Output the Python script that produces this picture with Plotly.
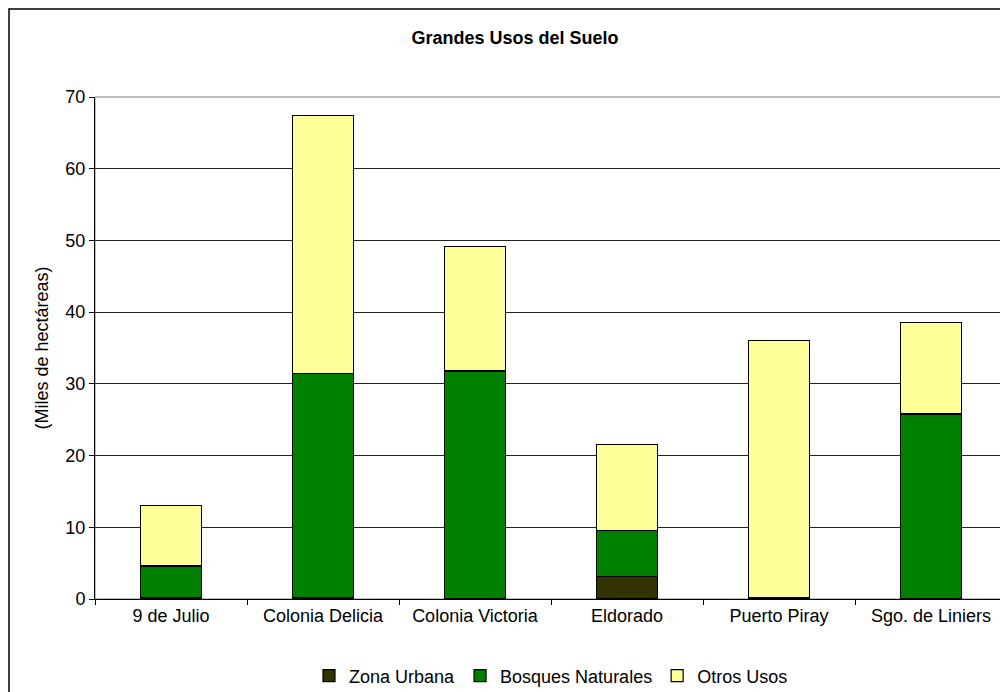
import plotly.graph_objects as go

categories = ["9 de Julio", "Colonia Delicia", "Colonia Victoria", "Eldorado", "Puerto Piray", "Sgo. de Liniers"]
zona_urbana = [0.2, 0.2, 0.1, 3.1, 0.2, 0.1]
bosques_naturales = [4.4, 31.2, 31.7, 6.5, 0.0, 25.7]
otros_usos = [8.4, 36.0, 17.4, 12.0, 35.9, 12.8]
y_ticks = [0, 10, 20, 30, 40, 50, 60, 70]

FONT = "Liberation Sans, Arial, sans-serif"

# page offset of 8px (body margin) compensated in figure size/margins
W, H = 1000, 692
L, T, R = 87, 89, 1
PW, PH = W - L - R, 502
B = H - T - PH

fig = go.Figure()
series = [
    ("Zona Urbana", zona_urbana, "#333300"),
    ("Bosques Naturales", bosques_naturales, "#008000"),
    ("Otros Usos", otros_usos, "#FFFF99"),
]
for name, vals, col in series:
    fig.add_trace(go.Bar(
        x=categories, y=vals, name=name,
        marker=dict(color=col, line=dict(color="#000000", width=1.2)),
    ))

fig.update_layout(
    width=W, height=H,
    barmode="stack", bargap=0.6,
    paper_bgcolor="white", plot_bgcolor="white",
    margin=dict(l=L, r=R, t=T, b=B, autoexpand=False),
    font=dict(family=FONT, size=18, color="#000000"),
    title=dict(text="<b>Grandes Usos del Suelo</b>", x=(507 - L) / PW, xref="paper", xanchor="center",
               y=1 - 30 / H, yanchor="middle", font=dict(size=18, family=FONT)),
    showlegend=True,
    legend=dict(orientation="h", x=0.5, xanchor="center", xref="paper",
                y=(PH - 668 + T) / PH, yanchor="middle", font=dict(size=18),
                itemwidth=30, tracegroupgap=0, traceorder="normal"),
    xaxis=dict(type="category", showline=True, linecolor="#000000", linewidth=1,
               ticks="outside", tickson="boundaries", ticklen=5, tickcolor="#000000",
               showgrid=False, tickfont=dict(size=18)),
    yaxis=dict(range=[0, 70], tickvals=y_ticks, showline=True, linecolor="#000000", linewidth=1,
               ticks="outside", ticklen=5, tickcolor="#000000",
               showgrid=True, gridcolor="#222222", gridwidth=1, zeroline=False,
               title=dict(text="(Miles de hectáreas)", font=dict(size=18), standoff=12),
               tickfont=dict(size=18)),
    shapes=[
        dict(type="rect", xref="paper", yref="paper", x0=0, x1=1, y0=0, y1=1,
             line=dict(color="#808080", width=1), fillcolor="rgba(0,0,0,0)", layer="below"),
        dict(type="rect", xref="paper", yref="paper",
             x0=(1 - L) / PW, x1=1.05, y0=-0.3, y1=(PH + T - 1) / PH,
             line=dict(color="#000000", width=1.5), fillcolor="rgba(0,0,0,0)"),
    ],
)

fig.write_html("out.html")
